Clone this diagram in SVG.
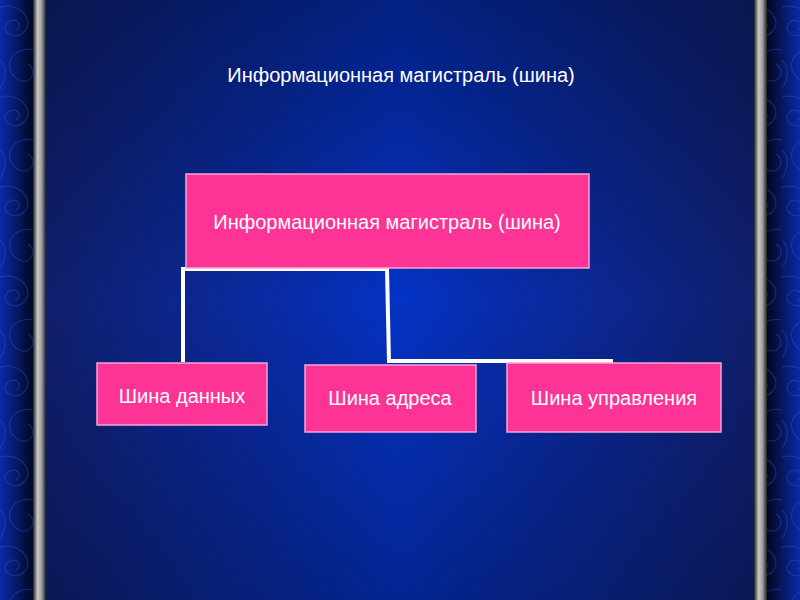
<svg xmlns="http://www.w3.org/2000/svg" width="800" height="600" viewBox="0 0 800 600">
<defs>
<linearGradient id="bgH" x1="0" y1="0" x2="1" y2="0">
<stop offset="0" stop-color="#121c60"/>
<stop offset="0.5" stop-color="#0432c4"/>
<stop offset="1" stop-color="#121c60"/>
</linearGradient>
<linearGradient id="bgV" x1="0" y1="0" x2="0" y2="1">
<stop offset="0" stop-color="#000820" stop-opacity="0.4"/>
<stop offset="0.5" stop-color="#000820" stop-opacity="0"/>
<stop offset="1" stop-color="#000820" stop-opacity="0.3"/>
</linearGradient>
<linearGradient id="bar" x1="0" y1="0" x2="1" y2="0">
<stop offset="0" stop-color="#202020"/>
<stop offset="0.35" stop-color="#c8c8c8"/>
<stop offset="0.65" stop-color="#a0a0a0"/>
<stop offset="1" stop-color="#202020"/>
</linearGradient>
<linearGradient id="swL" x1="0" y1="0" x2="1" y2="0">
<stop offset="0" stop-color="#0a2aa8"/>
<stop offset="1" stop-color="#02061c"/>
</linearGradient>
<linearGradient id="swR" x1="0" y1="0" x2="1" y2="0">
<stop offset="0" stop-color="#02061c"/>
<stop offset="1" stop-color="#0a2aa8"/>
</linearGradient>
<pattern id="swirl" width="34" height="90" patternUnits="userSpaceOnUse">
<path d="M-2 8 C18 0 36 20 24 32 C14 42 -2 30 8 22 C16 16 24 26 16 30 M34 50 C12 46 2 66 16 78 C28 88 40 72 28 64 M0 60 C10 70 4 86 -4 92" fill="none" stroke="#3a5cff" stroke-opacity="0.3" stroke-width="1.2"/>
</pattern>
<style>
.box{fill:#fd3396;stroke:#f4a6d6;stroke-width:1.5}
.lbl{font-family:"Liberation Sans",Arial,sans-serif;font-size:20px;fill:#ffffff;text-anchor:middle}
.con{fill:none;stroke:#ffffff;stroke-width:4}
</style>
</defs>
<rect width="800" height="600" fill="url(#bgH)"/>
<rect width="800" height="600" fill="url(#bgV)"/>
<rect x="0" y="0" width="34" height="600" fill="url(#swL)"/>
<rect x="0" y="0" width="34" height="600" fill="url(#swirl)"/>
<rect x="766" y="0" width="34" height="600" fill="url(#swR)"/>
<rect x="766" y="0" width="34" height="600" fill="url(#swirl)"/>
<rect x="33" y="0" width="13" height="600" fill="url(#bar)"/>
<rect x="754" y="0" width="13" height="600" fill="url(#bar)"/>
<text class="lbl" x="401" y="82">Информационная магистраль (шина)</text>
<g id="connectors">
<polyline class="con" points="183,362 183,269 387,269 389,361 613,361"/>
</g>
<g id="node-main">
<rect class="box" x="186" y="174" width="403" height="94"/>
<text class="lbl" x="387" y="229">Информационная магистраль (шина)</text>
</g>
<g id="node-data">
<rect class="box" x="97" y="363" width="170" height="62"/>
<text class="lbl" x="182" y="403">Шина данных</text>
</g>
<g id="node-addr">
<rect class="box" x="305" y="365" width="171" height="67"/>
<text class="lbl" x="390" y="405">Шина адреса</text>
</g>
<g id="node-ctrl">
<rect class="box" x="507" y="363" width="214" height="69"/>
<text class="lbl" x="614" y="405">Шина управления</text>
</g>
</svg>
